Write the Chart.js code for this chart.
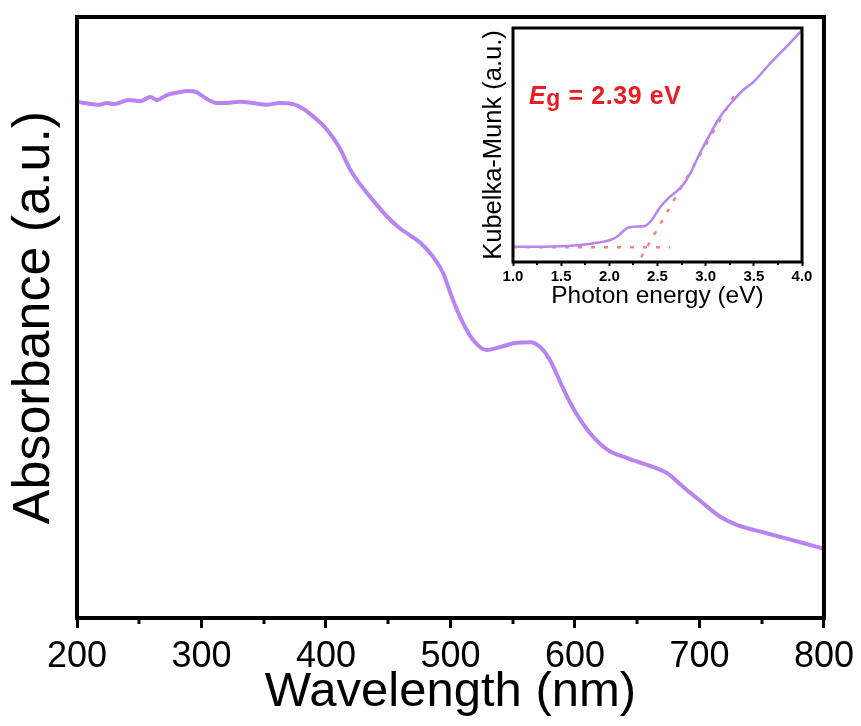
<!DOCTYPE html>
<html>
<head>
<meta charset="utf-8">
<title>Absorbance spectrum</title>
<script src="https://cdn.jsdelivr.net/npm/chart.js@4.4.1/dist/chart.umd.min.js"></script>
<style>
  html, body { margin: 0; padding: 0; background: #fff; }
  #wrap { position: relative; width: 861px; height: 726px; }
  #main { position: absolute; left: 0; top: 0; }
  #inset { position: absolute; left: 470px; top: 10px; }
</style>
</head>
<body>
<div id="wrap">
  <canvas id="main" width="861" height="726"></canvas>
  <canvas id="inset" width="360" height="310"></canvas>
</div>
<script>
// UV-vis absorbance (arbitrary units)
var wavelength = [200, 218, 224, 229, 242, 251, 259, 264, 272, 280,
  289, 296, 304, 312, 320, 331, 341, 352, 363, 374,
  382, 390, 401, 411, 420, 431, 441, 450, 459, 468,
  476, 486, 494, 502, 510, 518, 529, 540, 553, 564,
  572, 580, 590, 598, 610, 626, 642, 663, 674, 687,
  700, 717, 730, 754, 781, 800];
var absorbance = [0.859, 0.854, 0.857, 0.855, 0.862, 0.860, 0.867, 0.862, 0.870, 0.874,
  0.877, 0.875, 0.864, 0.857, 0.857, 0.859, 0.857, 0.854, 0.857, 0.855,
  0.847, 0.834, 0.812, 0.782, 0.744, 0.712, 0.687, 0.666, 0.649, 0.636,
  0.624, 0.601, 0.574, 0.529, 0.491, 0.463, 0.446, 0.451, 0.458, 0.459,
  0.451, 0.429, 0.384, 0.351, 0.313, 0.280, 0.266, 0.251, 0.241, 0.218,
  0.196, 0.168, 0.155, 0.141, 0.126, 0.115];

// Kubelka-Munk transform vs photon energy
var energy = [1.00, 1.20, 1.40, 1.70, 1.87, 2.01, 2.08, 2.18, 2.25, 2.37,
  2.44, 2.53, 2.63, 2.75, 2.84, 2.94, 3.05, 3.15, 3.29, 3.39,
  3.50, 3.67, 3.84, 4.00];
var kubelkaMunk = [0.065, 0.065, 0.066, 0.073, 0.082, 0.094, 0.108, 0.144, 0.151, 0.154,
  0.179, 0.236, 0.279, 0.322, 0.379, 0.465, 0.550, 0.621, 0.692, 0.735,
  0.771, 0.849, 0.920, 0.991];

// baseline and tangent used for the band gap estimate
var baselineEnergy = [1.0, 2.63];
var baselineKM = [0.063, 0.063];
var tangentEnergy = [2.33, 3.30];
var tangentKM = [0.020, 0.715];
var bandGap = 2.39;

var FONT = "'Liberation Sans', Arial, sans-serif";
var PURPLE = '#b784f2';
var DOTS = 'rgba(238,110,110,0.85)';

function pairs(xs, ys) {
  return xs.map(function (x, i) { return { x: x, y: ys[i] }; });
}

// black box round the plot area plus short unlabelled ticks on the x axis
var frameTicks = {
  id: 'frameTicks',
  afterDraw: function (chart, args, opts) {
    var ctx = chart.ctx, a = chart.chartArea, sx = chart.scales.x;
    ctx.save();
    ctx.strokeStyle = '#000';
    ctx.lineWidth = opts.width;
    ctx.strokeRect(a.left, a.top, a.right - a.left, a.bottom - a.top);
    ctx.lineWidth = opts.tickWidth;
    for (var v = sx.min + opts.minor; v < sx.max - 1e-9; v += opts.minor) {
      if (Math.abs(v / opts.major - Math.round(v / opts.major)) < 1e-6) continue;
      var px = Math.round(sx.getPixelForValue(v));
      ctx.beginPath();
      ctx.moveTo(px, a.bottom);
      ctx.lineTo(px, a.bottom + opts.minorLength);
      ctx.stroke();
    }
    ctx.restore();
  }
};

// band gap label inside the inset
var gapLabel = {
  id: 'gapLabel',
  afterDraw: function (chart) {
    var ctx = chart.ctx, x = 59, y = 94;
    ctx.save();
    ctx.fillStyle = '#ea1c24';
    ctx.textBaseline = 'alphabetic';
    ctx.letterSpacing = '0.6px';
    ctx.font = 'italic bold 25px ' + FONT;
    ctx.fillText('E', x, y);
    x += ctx.measureText('E').width;
    ctx.font = 'bold 23px ' + FONT;
    ctx.fillText('g', x, y + 2);
    x += ctx.measureText('g').width;
    ctx.font = 'bold 25px ' + FONT;
    ctx.fillText(' = ' + bandGap.toFixed(2) + ' eV', x, y);
    ctx.restore();
  }
};

new Chart(document.getElementById('main'), {
  type: 'line',
  data: {
    datasets: [{
      data: pairs(wavelength, absorbance),
      borderColor: PURPLE,
      borderWidth: 4,
      pointRadius: 0,
      cubicInterpolationMode: 'monotone',
      fill: false
    }]
  },
  options: {
    responsive: false,
    animation: false,
    layout: { padding: { left: 0, right: 37, top: 17, bottom: 0 } },
    plugins: {
      legend: { display: false },
      tooltip: { enabled: false },
      frameTicks: { width: 4, tickWidth: 3, minor: 50, major: 100, minorLength: 6 }
    },
    scales: {
      x: {
        type: 'linear',
        min: 200,
        max: 800,
        border: { display: false },
        grid: { display: true, drawOnChartArea: false, drawTicks: true, tickLength: 10, tickWidth: 3, tickColor: '#000' },
        ticks: { stepSize: 100, autoSkip: false, maxRotation: 0, padding: 7, color: '#000', font: { family: FONT, size: 36 } },
        title: { display: true, text: 'Wavelength (nm)', color: '#000', font: { family: FONT, size: 49 }, padding: { top: 0, bottom: 4 } },
        afterFit: function (s) { s.height = 108; }
      },
      y: {
        min: 0,
        max: 1,
        border: { display: false },
        grid: { display: false },
        ticks: { display: false },
        title: { display: true, text: 'Absorbance (a.u.)', color: '#000', font: { family: FONT, size: 52 }, padding: { top: 3, bottom: 0 } },
        afterFit: function (s) { s.width = 77; }
      }
    }
  },
  plugins: [frameTicks]
});

new Chart(document.getElementById('inset'), {
  type: 'line',
  data: {
    datasets: [{
      data: pairs(energy, kubelkaMunk),
      borderColor: PURPLE,
      borderWidth: 2.5,
      pointRadius: 0,
      cubicInterpolationMode: 'monotone',
      fill: false
    }, {
      data: pairs(baselineEnergy, baselineKM),
      borderColor: DOTS,
      borderWidth: 2.5,
      borderDash: [4, 9],
      pointRadius: 0,
      fill: false
    }, {
      data: pairs(tangentEnergy, tangentKM),
      borderColor: DOTS,
      borderWidth: 2.5,
      borderDash: [4, 9],
      pointRadius: 0,
      fill: false
    }]
  },
  options: {
    responsive: false,
    animation: false,
    layout: { padding: { left: 0, right: 28, top: 18, bottom: 0 } },
    plugins: {
      legend: { display: false },
      tooltip: { enabled: false },
      frameTicks: { width: 3, tickWidth: 2, minor: 0.25, major: 0.5, minorLength: 3 }
    },
    scales: {
      x: {
        type: 'linear',
        min: 1,
        max: 4,
        border: { display: false },
        grid: { display: true, drawOnChartArea: false, drawTicks: true, tickLength: 4, tickWidth: 2, tickColor: '#000' },
        ticks: {
          stepSize: 0.5, autoSkip: false, maxRotation: 0, padding: 2, color: '#000',
          font: { family: FONT, size: 15, weight: 'bold' },
          callback: function (v) { return v.toFixed(1); }
        },
        title: { display: true, text: 'Photon energy (eV)', color: '#000', font: { family: FONT, size: 24.5 }, padding: { top: 0, bottom: 9 } },
        afterFit: function (s) { s.height = 58; }
      },
      y: {
        min: 0,
        max: 1,
        border: { display: false },
        grid: { display: false },
        ticks: { display: false },
        title: { display: true, text: 'Kubelka-Munk (a.u.)', color: '#000', font: { family: FONT, size: 25.5 }, padding: { top: 9, bottom: 0 } },
        afterFit: function (s) { s.width = 43; }
      }
    }
  },
  plugins: [frameTicks, gapLabel]
});
</script>
</body>
</html>
